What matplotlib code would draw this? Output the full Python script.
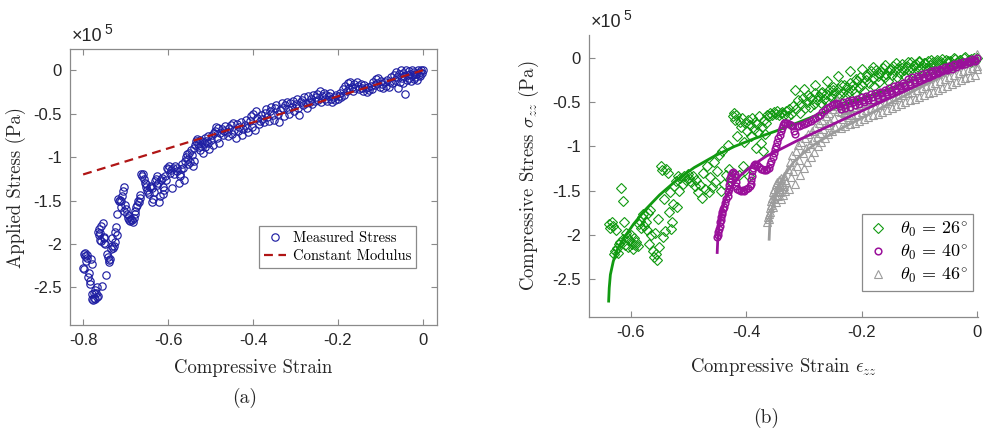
import matplotlib
matplotlib.use("Agg")
import matplotlib.pyplot as plt
from matplotlib.ticker import FormatStrFormatter
from matplotlib.lines import Line2D

# ---------------------------------------------------------------------------
# Data (stress in units of 1e5 Pa)
# ---------------------------------------------------------------------------

# (a) measured stress vs compressive strain
measured_a = [
    (-0.800, -2.28), (-0.799, -2.29), (-0.798, -2.12), (-0.796, -2.10), (-0.795, -2.14),
    (-0.793, -2.20), (-0.792, -2.13), (-0.790, -2.16), (-0.789, -2.38), (-0.787, -2.33),
    (-0.785, -2.43), (-0.784, -2.46), (-0.782, -2.17), (-0.780, -2.23), (-0.779, -2.58),
    (-0.778, -2.63), (-0.777, -2.65), (-0.775, -2.56), (-0.774, -2.62), (-0.772, -2.53),
    (-0.771, -2.64), (-0.770, -2.57), (-0.768, -2.61), (-0.767, -2.50), (-0.765, -2.60),
    (-0.764, -1.86), (-0.763, -1.90), (-0.762, -1.83), (-0.761, -1.95), (-0.760, -1.88),
    (-0.758, -1.97), (-0.757, -1.79), (-0.755, -2.49), (-0.754, -1.76), (-0.752, -1.93),
    (-0.751, -1.99), (-0.750, -1.92), (-0.748, -2.00), (-0.745, -2.36), (-0.743, -2.12),
    (-0.741, -2.15), (-0.740, -2.18), (-0.738, -2.21), (-0.736, -2.17), (-0.735, -2.06),
    (-0.733, -2.02), (-0.731, -1.93), (-0.730, -2.05), (-0.728, -2.02), (-0.726, -1.98),
    (-0.724, -1.86), (-0.722, -1.80), (-0.721, -1.65), (-0.720, -1.90), (-0.718, -1.48),
    (-0.716, -1.50), (-0.714, -1.49), (-0.712, -1.58), (-0.710, -1.51), (-0.708, -1.45),
    (-0.706, -1.39), (-0.704, -1.34), (-0.703, -1.62), (-0.701, -1.55), (-0.699, -1.60),
    (-0.697, -1.65), (-0.695, -1.70), (-0.693, -1.72), (-0.691, -1.68), (-0.689, -1.74),
    (-0.687, -1.71), (-0.685, -1.73), (-0.683, -1.75), (-0.681, -1.70), (-0.679, -1.65),
    (-0.677, -1.62), (-0.675, -1.58), (-0.673, -1.55), (-0.671, -1.50), (-0.669, -1.52),
    (-0.667, -1.47), (-0.665, -1.44), (-0.663, -1.20), (-0.661, -1.22), (-0.659, -1.19),
    (-0.657, -1.25), (-0.655, -1.30), (-0.653, -1.35), (-0.651, -1.31), (-0.649, -1.38),
    (-0.647, -1.40), (-0.645, -1.43), (-0.643, -1.35), (-0.641, -1.33), (-0.639, -1.36),
    (-0.637, -1.52), (-0.635, -1.48), (-0.633, -1.40), (-0.631, -1.28), (-0.629, -1.25),
    (-0.627, -1.32), (-0.625, -1.22), (-0.623, -1.30), (-0.621, -1.52), (-0.619, -1.45),
    (-0.617, -1.26), (-0.615, -1.24), (-0.613, -1.34), (-0.611, -1.42), (-0.609, -1.38),
    (-0.607, -1.22), (-0.605, -1.26), (-0.602, -1.12), (-0.600, -1.14), (-0.597, -1.10),
    (-0.595, -1.18), (-0.593, -1.15), (-0.590, -1.36), (-0.588, -1.12), (-0.585, -1.20),
    (-0.583, -1.10), (-0.580, -1.16), (-0.578, -1.13), (-0.575, -1.30), (-0.573, -1.19),
    (-0.571, -1.22), (-0.569, -1.14), (-0.567, -1.08), (-0.565, -1.12), (-0.563, -1.26),
    (-0.560, -1.05), (-0.558, -1.00), (-0.556, -0.97), (-0.554, -1.02), (-0.552, -1.08),
    (-0.550, -0.95), (-0.548, -1.06), (-0.546, -0.92), (-0.544, -0.98), (-0.542, -1.10),
    (-0.540, -1.04), (-0.538, -0.90), (-0.536, -0.86), (-0.534, -0.82), (-0.532, -0.79),
    (-0.530, -0.85), (-0.528, -0.88), (-0.526, -0.80), (-0.524, -0.92), (-0.522, -0.87),
    (-0.520, -0.83), (-0.518, -0.95), (-0.516, -0.84), (-0.514, -0.78), (-0.512, -0.88),
    (-0.510, -0.81), (-0.507, -0.76), (-0.505, -0.84), (-0.503, -0.91), (-0.500, -0.80),
    (-0.497, -0.74), (-0.495, -0.86), (-0.492, -0.72), (-0.490, -0.70), (-0.487, -0.65),
    (-0.485, -0.78), (-0.483, -0.66), (-0.480, -0.84), (-0.477, -0.72), (-0.474, -0.68),
    (-0.471, -0.75), (-0.468, -0.70), (-0.465, -0.64), (-0.462, -0.71), (-0.459, -0.76),
    (-0.456, -0.67), (-0.453, -0.63), (-0.450, -0.73), (-0.447, -0.61), (-0.444, -0.69),
    (-0.441, -0.78), (-0.438, -0.62), (-0.435, -0.70), (-0.432, -0.65), (-0.429, -0.60),
    (-0.426, -0.74), (-0.423, -0.68), (-0.420, -0.63), (-0.417, -0.57), (-0.414, -0.66),
    (-0.411, -0.71), (-0.408, -0.59), (-0.405, -0.53), (-0.402, -0.65), (-0.399, -0.50),
    (-0.396, -0.69), (-0.393, -0.47), (-0.390, -0.55), (-0.387, -0.62), (-0.384, -0.58),
    (-0.381, -0.52), (-0.378, -0.56), (-0.375, -0.60), (-0.372, -0.49), (-0.369, -0.45),
    (-0.366, -0.54), (-0.363, -0.58), (-0.360, -0.47), (-0.357, -0.42), (-0.354, -0.51),
    (-0.351, -0.57), (-0.348, -0.44), (-0.345, -0.40), (-0.342, -0.50), (-0.339, -0.60),
    (-0.336, -0.46), (-0.333, -0.38), (-0.330, -0.43), (-0.327, -0.53), (-0.324, -0.40),
    (-0.321, -0.36), (-0.318, -0.45), (-0.315, -0.50), (-0.312, -0.38), (-0.309, -0.42),
    (-0.306, -0.35), (-0.303, -0.47), (-0.300, -0.39), (-0.297, -0.33), (-0.294, -0.44),
    (-0.291, -0.51), (-0.288, -0.37), (-0.285, -0.34), (-0.282, -0.40), (-0.279, -0.31),
    (-0.276, -0.38), (-0.273, -0.44), (-0.270, -0.30), (-0.267, -0.36), (-0.264, -0.33),
    (-0.261, -0.39), (-0.258, -0.29), (-0.255, -0.35), (-0.252, -0.31), (-0.249, -0.27),
    (-0.246, -0.34), (-0.243, -0.24), (-0.240, -0.37), (-0.237, -0.30), (-0.234, -0.26),
    (-0.231, -0.33), (-0.228, -0.28), (-0.225, -0.35), (-0.222, -0.30), (-0.219, -0.26),
    (-0.216, -0.33), (-0.213, -0.36), (-0.210, -0.31), (-0.207, -0.34), (-0.204, -0.29),
    (-0.201, -0.33), (-0.198, -0.30), (-0.195, -0.26), (-0.192, -0.31), (-0.189, -0.22),
    (-0.186, -0.28), (-0.183, -0.18), (-0.180, -0.24), (-0.177, -0.15), (-0.174, -0.21),
    (-0.171, -0.13), (-0.168, -0.19), (-0.165, -0.24), (-0.162, -0.16), (-0.159, -0.20),
    (-0.156, -0.14), (-0.153, -0.18), (-0.150, -0.22), (-0.147, -0.16), (-0.144, -0.20),
    (-0.141, -0.24), (-0.138, -0.17), (-0.135, -0.21), (-0.132, -0.25), (-0.129, -0.19),
    (-0.126, -0.23), (-0.123, -0.18), (-0.120, -0.22), (-0.117, -0.13), (-0.114, -0.17),
    (-0.111, -0.10), (-0.108, -0.15), (-0.105, -0.09), (-0.102, -0.19), (-0.099, -0.12),
    (-0.096, -0.16), (-0.093, -0.21), (-0.090, -0.14), (-0.087, -0.18), (-0.084, -0.11),
    (-0.081, -0.19), (-0.078, -0.13), (-0.075, -0.08), (-0.072, -0.15), (-0.069, -0.05),
    (-0.066, -0.11), (-0.063, -0.02), (-0.060, -0.08), (-0.058, -0.20), (-0.056, -0.04),
    (-0.054, -0.13), (-0.052, 0.00), (-0.050, -0.09), (-0.048, -0.15), (-0.046, -0.03),
    (-0.044, -0.07), (-0.042, -0.27), (-0.040, 0.00), (-0.038, -0.11), (-0.036, -0.05),
    (-0.034, -0.01), (-0.032, -0.09), (-0.030, -0.04), (-0.028, -0.12), (-0.026, 0.00),
    (-0.024, -0.06), (-0.022, -0.10), (-0.020, -0.02), (-0.018, -0.08), (-0.016, -0.04),
    (-0.014, -0.11), (-0.012, 0.00), (-0.010, -0.05), (-0.008, -0.02), (-0.006, -0.07),
    (-0.004, 0.00), (-0.002, -0.03), (0.000, 0.00),
]

# (a) constant modulus line, end points
modulus_strain = [-0.8, 0.0]
modulus_stress = [-1.2, 0.0]

# (b) theta0 = 26 deg, measured
meas_26 = [
    (-0.637, -1.88), (-0.635, -1.92), (-0.633, -1.86), (-0.631, -1.90), (-0.629, -2.22),
    (-0.627, -2.18), (-0.626, -1.95), (-0.624, -2.15), (-0.622, -2.20), (-0.620, -2.10),
    (-0.618, -2.08), (-0.616, -1.47), (-0.614, -1.62), (-0.613, -2.05), (-0.611, -1.85),
    (-0.610, -2.12), (-0.608, -1.98), (-0.606, -2.02), (-0.604, -2.14), (-0.602, -2.06),
    (-0.600, -2.00), (-0.598, -2.10), (-0.596, -2.16), (-0.594, -2.04), (-0.592, -2.12),
    (-0.590, -2.08), (-0.588, -2.13), (-0.586, -1.88), (-0.584, -1.84), (-0.582, -1.92),
    (-0.580, -1.80), (-0.578, -1.76), (-0.576, -1.90), (-0.574, -1.86), (-0.572, -1.95),
    (-0.570, -1.75), (-0.568, -2.10), (-0.566, -1.72), (-0.564, -2.00), (-0.562, -2.18),
    (-0.560, -2.25), (-0.558, -1.98), (-0.556, -2.22), (-0.554, -2.28), (-0.552, -1.82),
    (-0.550, -2.14), (-0.548, -1.22), (-0.546, -1.27), (-0.544, -2.02), (-0.542, -1.60),
    (-0.540, -1.96), (-0.538, -1.25), (-0.536, -1.30), (-0.534, -1.74), (-0.532, -1.52),
    (-0.530, -1.93), (-0.528, -1.85), (-0.526, -1.65), (-0.524, -1.45), (-0.522, -1.39),
    (-0.520, -1.68), (-0.518, -1.33), (-0.516, -1.50), (-0.514, -1.36), (-0.510, -1.42),
    (-0.507, -1.33), (-0.504, -1.38), (-0.501, -1.31), (-0.498, -1.36), (-0.495, -1.40),
    (-0.492, -1.33), (-0.489, -1.45), (-0.486, -1.38), (-0.483, -1.52), (-0.480, -1.44),
    (-0.477, -1.58), (-0.474, -1.30), (-0.471, -1.48), (-0.468, -1.22), (-0.465, -1.52),
    (-0.462, -1.35), (-0.459, -1.46), (-0.456, -1.18), (-0.453, -1.40), (-0.450, -1.28),
    (-0.447, -1.10), (-0.444, -1.50), (-0.441, -1.05), (-0.438, -1.42), (-0.435, -1.32),
    (-0.432, -0.98), (-0.429, -1.25), (-0.426, -1.36), (-0.423, -0.66), (-0.421, -0.62),
    (-0.419, -0.70), (-0.417, -0.64), (-0.415, -0.88), (-0.413, -1.32), (-0.411, -0.72),
    (-0.409, -0.78), (-0.407, -0.68), (-0.405, -1.22), (-0.403, -0.95), (-0.401, -0.74),
    (-0.399, -0.82), (-0.397, -0.70), (-0.395, -1.33), (-0.393, -0.76), (-0.391, -0.88),
    (-0.389, -0.68), (-0.387, -0.80), (-0.385, -0.72), (-0.383, -1.02), (-0.381, -0.75),
    (-0.379, -0.84), (-0.377, -0.66), (-0.375, -0.96), (-0.373, -0.78), (-0.371, -1.05),
    (-0.369, -0.70), (-0.367, -0.86), (-0.365, -0.74), (-0.363, -0.64), (-0.361, -0.66),
    (-0.358, -0.62), (-0.355, -0.65), (-0.352, -0.61), (-0.349, -0.63), (-0.346, -0.60),
    (-0.343, -0.64), (-0.340, -0.62), (-0.337, -0.61), (-0.334, -0.64), (-0.331, -0.60),
    (-0.328, -0.66), (-0.325, -0.58), (-0.322, -0.63), (-0.319, -0.54), (-0.316, -0.36),
    (-0.313, -0.58), (-0.310, -0.48), (-0.307, -0.62), (-0.304, -0.52), (-0.301, -0.45),
    (-0.298, -0.57), (-0.295, -0.50), (-0.292, -0.42), (-0.289, -0.55), (-0.286, -0.46),
    (-0.283, -0.52), (-0.280, -0.40), (-0.277, -0.48), (-0.274, -0.43), (-0.271, -0.51),
    (-0.268, -0.38), (-0.265, -0.46), (-0.262, -0.41), (-0.259, -0.49), (-0.256, -0.36),
    (-0.253, -0.44), (-0.250, -0.33), (-0.247, -0.40), (-0.244, -0.47), (-0.241, -0.35),
    (-0.238, -0.42), (-0.235, -0.30), (-0.232, -0.38), (-0.229, -0.44), (-0.226, -0.33),
    (-0.223, -0.40), (-0.220, -0.28), (-0.217, -0.36), (-0.214, -0.31), (-0.211, -0.39),
    (-0.208, -0.26), (-0.205, -0.34), (-0.202, -0.22), (-0.199, -0.30), (-0.196, -0.37),
    (-0.193, -0.25), (-0.190, -0.18), (-0.187, -0.28), (-0.184, -0.15), (-0.181, -0.23),
    (-0.178, -0.32), (-0.175, -0.13), (-0.172, -0.20), (-0.169, -0.27), (-0.166, -0.16),
    (-0.163, -0.11), (-0.160, -0.22), (-0.157, -0.18), (-0.154, -0.26), (-0.151, -0.12),
    (-0.148, -0.19), (-0.145, -0.09), (-0.142, -0.15), (-0.139, -0.22), (-0.136, -0.11),
    (-0.133, -0.17), (-0.130, -0.07), (-0.127, -0.13), (-0.124, -0.20), (-0.121, -0.09),
    (-0.118, -0.15), (-0.115, -0.05), (-0.112, -0.11), (-0.109, -0.17), (-0.106, -0.07),
    (-0.103, -0.13), (-0.100, -0.04), (-0.097, -0.10), (-0.094, -0.15), (-0.091, -0.06),
    (-0.088, -0.11), (-0.085, -0.03), (-0.082, -0.08), (-0.079, -0.13), (-0.076, -0.05),
    (-0.073, -0.09), (-0.070, -0.02), (-0.066, -0.07), (-0.062, -0.04), (-0.058, -0.09),
    (-0.054, -0.02), (-0.050, -0.06), (-0.046, -0.03), (-0.042, -0.07), (-0.038, -0.01),
    (-0.034, -0.05), (-0.030, -0.02), (-0.026, -0.06), (-0.022, 0.00), (-0.018, -0.04),
    (-0.014, -0.02), (-0.010, -0.05), (-0.006, 0.00), (-0.003, -0.03), (0.000, 0.00),
    (-0.300, -0.35), (-0.280, -0.30), (-0.260, -0.26), (-0.240, -0.20), (-0.220, -0.15),
    (-0.200, -0.12), (-0.180, -0.10), (-0.160, -0.08), (-0.140, -0.06), (-0.120, -0.04),
    (-0.100, -0.03), (-0.080, -0.02), (-0.060, -0.01), (-0.040, 0.00), (-0.020, 0.01),
    (-0.290, -0.44), (-0.270, -0.40), (-0.250, -0.36), (-0.230, -0.30), (-0.210, -0.24),
    (-0.190, -0.20), (-0.170, -0.17), (-0.150, -0.14), (-0.130, -0.11), (-0.110, -0.08),
    (-0.090, -0.06), (-0.070, -0.05), (-0.050, -0.03), (-0.030, -0.02), (-0.010, -0.01),
]

# (b) theta0 = 40 deg, measured
meas_40 = [
    (-0.450, -2.03), (-0.449, -2.00), (-0.448, -1.97), (-0.447, -1.93), (-0.446, -1.90),
    (-0.445, -1.86), (-0.444, -1.83), (-0.443, -1.80), (-0.442, -1.77), (-0.441, -1.74),
    (-0.440, -1.71), (-0.438, -1.68), (-0.436, -1.64), (-0.434, -1.60), (-0.432, -1.56),
    (-0.431, -1.52), (-0.430, -1.48), (-0.429, -1.44), (-0.428, -1.40), (-0.427, -1.36),
    (-0.426, -1.32), (-0.424, -1.30), (-0.422, -1.29), (-0.420, -1.31), (-0.419, -1.35),
    (-0.418, -1.40), (-0.417, -1.45), (-0.415, -1.48), (-0.412, -1.49), (-0.409, -1.50),
    (-0.406, -1.49), (-0.403, -1.50), (-0.400, -1.48), (-0.397, -1.47), (-0.394, -1.45),
    (-0.392, -1.42), (-0.391, -1.38), (-0.390, -1.33), (-0.389, -1.28), (-0.388, -1.24),
    (-0.386, -1.21), (-0.384, -1.20), (-0.381, -1.21), (-0.378, -1.23), (-0.375, -1.25),
    (-0.372, -1.26), (-0.369, -1.27), (-0.366, -1.27), (-0.363, -1.26), (-0.360, -1.24),
    (-0.358, -1.20), (-0.356, -1.16), (-0.354, -1.12), (-0.352, -1.07), (-0.350, -1.03),
    (-0.348, -0.99), (-0.346, -0.95), (-0.344, -0.91), (-0.342, -0.87), (-0.340, -0.83),
    (-0.338, -0.79), (-0.336, -0.76), (-0.334, -0.74), (-0.332, -0.73), (-0.329, -0.74),
    (-0.326, -0.75), (-0.323, -0.76), (-0.320, -0.77), (-0.317, -0.83), (-0.315, -0.86),
    (-0.312, -0.77), (-0.308, -0.77), (-0.304, -0.76), (-0.300, -0.75), (-0.296, -0.74),
    (-0.292, -0.72), (-0.288, -0.71), (-0.284, -0.69), (-0.280, -0.68), (-0.276, -0.66),
    (-0.272, -0.64), (-0.268, -0.61), (-0.264, -0.59), (-0.260, -0.57), (-0.256, -0.55),
    (-0.252, -0.53), (-0.248, -0.52), (-0.244, -0.51), (-0.240, -0.52), (-0.236, -0.58),
    (-0.232, -0.50), (-0.228, -0.56), (-0.224, -0.49), (-0.220, -0.55), (-0.216, -0.47),
    (-0.212, -0.53), (-0.208, -0.46), (-0.204, -0.52), (-0.200, -0.44), (-0.196, -0.50),
    (-0.192, -0.43), (-0.188, -0.48), (-0.184, -0.41), (-0.180, -0.47), (-0.176, -0.40),
    (-0.172, -0.45), (-0.168, -0.38), (-0.164, -0.43), (-0.160, -0.36), (-0.156, -0.41),
    (-0.152, -0.34), (-0.148, -0.39), (-0.144, -0.32), (-0.140, -0.37), (-0.136, -0.30),
    (-0.132, -0.34), (-0.128, -0.28), (-0.124, -0.32), (-0.120, -0.24), (-0.116, -0.29),
    (-0.112, -0.22), (-0.108, -0.27), (-0.104, -0.20), (-0.100, -0.25), (-0.096, -0.18),
    (-0.092, -0.23), (-0.088, -0.17), (-0.084, -0.21), (-0.080, -0.15), (-0.076, -0.19),
    (-0.072, -0.13), (-0.068, -0.17), (-0.064, -0.12), (-0.060, -0.15), (-0.056, -0.10),
    (-0.052, -0.14), (-0.048, -0.09), (-0.044, -0.12), (-0.040, -0.07), (-0.036, -0.10),
    (-0.032, -0.06), (-0.028, -0.08), (-0.024, -0.04), (-0.020, -0.07), (-0.016, -0.03),
    (-0.012, -0.05), (-0.008, -0.01), (-0.004, -0.03), (0.000, 0.00),
    (-0.238, -0.54), (-0.230, -0.53), (-0.222, -0.51), (-0.214, -0.50), (-0.206, -0.49),
    (-0.198, -0.47), (-0.190, -0.45), (-0.182, -0.44), (-0.174, -0.42), (-0.166, -0.40),
    (-0.158, -0.38), (-0.150, -0.37), (-0.142, -0.35), (-0.134, -0.32), (-0.126, -0.30),
    (-0.118, -0.27), (-0.110, -0.25), (-0.102, -0.23), (-0.094, -0.21), (-0.086, -0.19),
    (-0.078, -0.17), (-0.070, -0.15), (-0.062, -0.14), (-0.054, -0.12), (-0.046, -0.10),
    (-0.038, -0.08), (-0.030, -0.07), (-0.022, -0.05), (-0.014, -0.04), (-0.006, -0.02),
]

# (b) theta0 = 46 deg, measured: rising cluster
meas_46 = [
    (-0.363, -1.85), (-0.362, -1.80), (-0.361, -1.76), (-0.360, -1.82), (-0.359, -1.70),
    (-0.358, -1.74), (-0.357, -1.66), (-0.356, -1.62), (-0.355, -1.58), (-0.354, -1.68),
    (-0.353, -1.52), (-0.352, -1.60), (-0.351, -1.48), (-0.350, -1.55), (-0.349, -1.43),
    (-0.348, -1.63), (-0.347, -1.50), (-0.346, -1.40), (-0.345, -1.56), (-0.344, -1.46),
    (-0.343, -1.38), (-0.342, -1.52), (-0.341, -1.44), (-0.340, -1.60), (-0.339, -1.36),
    (-0.338, -1.48), (-0.337, -1.42), (-0.336, -1.55), (-0.335, -1.34), (-0.334, -1.45),
    (-0.333, -1.38), (-0.332, -1.50), (-0.330, -1.40), (-0.328, -1.25), (-0.326, -1.48),
    (-0.324, -1.18), (-0.322, -1.35), (-0.320, -1.10), (-0.318, -1.28), (-0.316, -1.42),
    (-0.314, -1.05), (-0.312, -1.22), (-0.310, -0.98), (-0.308, -1.15), (-0.306, -1.32),
    (-0.304, -0.95), (-0.302, -1.08), (-0.300, -1.24), (-0.298, -0.90), (-0.296, -1.02),
    (-0.294, -1.18), (-0.292, -0.86), (-0.290, -0.97), (-0.288, -1.12), (-0.286, -0.82),
    (-0.284, -0.93), (-0.282, -1.06), (-0.280, -0.78), (-0.278, -0.89), (-0.276, -1.00),
    (-0.274, -0.74), (-0.272, -0.85), (-0.270, -0.95), (-0.268, -0.70), (-0.266, -0.80),
    (-0.264, -0.90), (-0.262, -0.66), (-0.260, -0.76), (-0.258, -0.86), (-0.256, -0.62),
    (-0.254, -0.72), (-0.252, -0.82), (-0.250, -0.58), (-0.248, -0.68), (-0.246, -0.78),
    (-0.244, -0.54), (-0.242, -0.48), (-0.240, -0.60), (-0.238, -0.50), (-0.234, -0.56),
    (-0.230, -0.62), (-0.226, -0.58), (-0.222, -0.64),
]

# (b) theta0 = 46 deg, measured: upper band, three rows
band_46_top = [
    (-0.236, -0.61), (-0.228, -0.59), (-0.220, -0.57), (-0.212, -0.55), (-0.204, -0.53),
    (-0.196, -0.51), (-0.188, -0.49), (-0.180, -0.47), (-0.172, -0.45), (-0.164, -0.43),
    (-0.156, -0.41), (-0.148, -0.38), (-0.140, -0.36), (-0.132, -0.34), (-0.124, -0.32),
    (-0.116, -0.30), (-0.108, -0.28), (-0.100, -0.26), (-0.092, -0.24), (-0.084, -0.22),
    (-0.076, -0.20), (-0.068, -0.18), (-0.060, -0.16), (-0.052, -0.14), (-0.044, -0.11),
    (-0.036, -0.09), (-0.028, -0.07), (-0.020, -0.05), (-0.012, -0.03), (-0.004, -0.01),
    (0.000, 0.04),
]
band_46_mid = [
    (-0.232, -0.69), (-0.224, -0.67), (-0.216, -0.65), (-0.208, -0.63), (-0.200, -0.61),
    (-0.192, -0.59), (-0.184, -0.57), (-0.176, -0.55), (-0.168, -0.53), (-0.160, -0.51),
    (-0.152, -0.49), (-0.144, -0.46), (-0.136, -0.44), (-0.128, -0.42), (-0.120, -0.40),
    (-0.112, -0.38), (-0.104, -0.36), (-0.096, -0.34), (-0.088, -0.32), (-0.080, -0.30),
    (-0.072, -0.28), (-0.064, -0.26), (-0.056, -0.24), (-0.048, -0.21), (-0.040, -0.19),
    (-0.032, -0.17), (-0.024, -0.15), (-0.016, -0.13), (-0.008, -0.11), (0.000, -0.09),
]
band_46_low = [
    (-0.236, -0.79), (-0.228, -0.77), (-0.220, -0.75), (-0.212, -0.73), (-0.204, -0.71),
    (-0.196, -0.69), (-0.188, -0.67), (-0.180, -0.65), (-0.172, -0.63), (-0.164, -0.61),
    (-0.156, -0.59), (-0.148, -0.56), (-0.140, -0.54), (-0.132, -0.52), (-0.124, -0.50),
    (-0.116, -0.48), (-0.108, -0.46), (-0.100, -0.44), (-0.092, -0.42), (-0.084, -0.40),
    (-0.076, -0.38), (-0.068, -0.36), (-0.060, -0.34), (-0.052, -0.32), (-0.044, -0.29),
    (-0.036, -0.27), (-0.028, -0.25), (-0.020, -0.23), (-0.012, -0.21), (-0.004, -0.19),
    (0.000, -0.12),
]

# (b) model curves
fit_26_strain = [-0.638, -0.637, -0.635, -0.630, -0.622, -0.610, -0.595, -0.575, -0.550,
                 -0.520, -0.490, -0.455, -0.420, -0.385, -0.350, -0.310, -0.260, -0.200,
                 -0.140, -0.080, 0.0]
fit_26_stress = [-2.75, -2.60, -2.45, -2.30, -2.15, -2.02, -1.88, -1.72, -1.55,
                 -1.38, -1.24, -1.11, -1.00, -0.91, -0.83, -0.73, -0.60, -0.46,
                 -0.32, -0.18, 0.0]

fit_40_strain = [-0.450, -0.449, -0.447, -0.443, -0.436, -0.425, -0.410, -0.390, -0.365,
                 -0.340, -0.310, -0.280, -0.250, -0.220, -0.180, -0.140, -0.100, -0.050, 0.0]
fit_40_stress = [-2.20, -2.05, -1.92, -1.76, -1.60, -1.45, -1.33, -1.22, -1.11,
                 -1.03, -0.93, -0.84, -0.75, -0.66, -0.54, -0.42, -0.30, -0.15, 0.0]

fit_46_strain = [-0.360, -0.359, -0.357, -0.352, -0.344, -0.333, -0.318, -0.300, -0.280,
                 -0.255, -0.230, -0.200, -0.150, -0.100, -0.050, 0.0]
fit_46_stress = [-2.05, -1.90, -1.78, -1.62, -1.46, -1.32, -1.18, -1.07, -0.97,
                 -0.87, -0.78, -0.68, -0.51, -0.34, -0.17, 0.0]

legend_a = ["Measured Stress", "Constant Modulus"]
legend_b = [r"$\theta_0\,=\,26^{\circ}$", r"$\theta_0\,=\,40^{\circ}$", r"$\theta_0\,=\,46^{\circ}$"]

# ---------------------------------------------------------------------------
# Style
# ---------------------------------------------------------------------------

C_BLUE   = "#1f1fa3"
C_RED    = "#b01515"
C_GREEN  = "#119a11"
C_PURPLE = "#9a109a"
C_GRAY   = "#9c9c9c"
C_AXIS   = "#8a8a8a"
C_TEXT   = "#262626"

plt.rcParams["font.family"] = ["Liberation Sans", "DejaVu Sans"]
plt.rcParams["mathtext.fontset"] = "cm"
plt.rcParams["axes.unicode_minus"] = False

SERIF = "cmr10"


def style_axes(ax, box):
    for side in ("left", "bottom", "top", "right"):
        ax.spines[side].set_color(C_AXIS)
        ax.spines[side].set_linewidth(0.9)
        if not box and side in ("top", "right"):
            ax.spines[side].set_visible(False)
    ax.tick_params(direction="in", length=4, width=0.8, color=C_AXIS,
                   labelsize=12, labelcolor=C_TEXT, top=box, right=box, pad=6)
    ax.xaxis.set_major_formatter(FormatStrFormatter("%g"))
    ax.yaxis.set_major_formatter(FormatStrFormatter("%g"))


def exponent(ax, dx):
    ax.annotate("\u00d710", xy=(0, 1), xycoords="axes fraction",
                xytext=(dx, 3), textcoords="offset points",
                fontsize=13, color=C_TEXT, ha="left", va="bottom")
    ax.annotate("5", xy=(0, 1), xycoords="axes fraction",
                xytext=(dx + 23.5, 8.5), textcoords="offset points",
                fontsize=10, color=C_TEXT, ha="left", va="bottom")


def unzip(points):
    return [p[0] for p in points], [p[1] for p in points]


fig = plt.figure(figsize=(9.84, 4.29), dpi=100)

# ---------------------------------------------------------------------------
# (a)
# ---------------------------------------------------------------------------
ax1 = fig.add_axes([0.0711, 0.2424, 0.373, 0.6434])
xa, ya = unzip(measured_a)
ax1.plot(xa, ya, "o", ls="none", ms=5.3, mfc="none", mec=C_BLUE, mew=0.85)
ax1.plot(modulus_strain, modulus_stress, "--", color=C_RED, lw=1.6, dashes=(4, 2.5))
ax1.set_xlim(-0.831, 0.033)
ax1.set_ylim(-2.934, 0.245)
ax1.set_xticks([-0.8, -0.6, -0.4, -0.2, 0])
ax1.set_yticks([-2.5, -2, -1.5, -1, -0.5, 0])
style_axes(ax1, box=True)
ax1.set_xlabel("Compressive Strain", family=SERIF, fontsize=13.5, color=C_TEXT, labelpad=8)
ax1.set_ylabel("Applied Stress (Pa)", family=SERIF, fontsize=13.5, color=C_TEXT, labelpad=5)
exponent(ax1, 1)

handles_a = [
    Line2D([], [], marker="o", ls="none", ms=5.3, mfc="none", mec=C_BLUE, mew=0.85),
    Line2D([], [], ls="--", color=C_RED, lw=1.6, dashes=(4, 2.5)),
]
leg = ax1.legend(handles_a, legend_a, loc="upper left", bbox_to_anchor=(0.515, 0.358),
                 prop={"family": SERIF, "size": 10.5}, frameon=True, fancybox=False,
                 edgecolor=C_AXIS, framealpha=1, borderpad=0.35, labelspacing=0.3,
                 handlelength=1.5, handletextpad=0.45, borderaxespad=0)
leg.get_frame().set_linewidth(0.9)
fig.text(0.249, 0.072, "(a)", family=SERIF, fontsize=14, ha="center", va="center", color=C_TEXT)

# ---------------------------------------------------------------------------
# (b)
# ---------------------------------------------------------------------------
ax2 = fig.add_axes([0.5986, 0.261, 0.3953, 0.6573])
x26, y26 = unzip(meas_26)
x40, y40 = unzip(meas_40)
x46, y46 = unzip(meas_46 + band_46_top + band_46_mid + band_46_low)

ax2.plot(x26, y26, "D", ls="none", ms=4.6, mfc="none", mec=C_GREEN, mew=0.8, clip_on=False)
ax2.plot(fit_26_strain, fit_26_stress, "-", color=C_GREEN, lw=2, clip_on=False)
ax2.plot(x46, y46, "^", ls="none", ms=5.2, mfc="none", mec=C_GRAY, mew=0.8, clip_on=False)
ax2.plot(fit_46_strain, fit_46_stress, "-", color=C_GRAY, lw=2, clip_on=False)
ax2.plot(x40, y40, "o", ls="none", ms=4.8, mfc="none", mec=C_PURPLE, mew=1.1, clip_on=False)
ax2.plot(fit_40_strain, fit_40_stress, "-", color=C_PURPLE, lw=2, clip_on=False)

ax2.set_xlim(-0.672, 0.0017)
ax2.set_ylim(-2.93, 0.26)
ax2.set_xticks([-0.6, -0.4, -0.2, 0])
ax2.set_yticks([-2.5, -2, -1.5, -1, -0.5, 0])
style_axes(ax2, box=False)
ax2.set_xlabel(r"Compressive Strain $\epsilon_{zz}$", family=SERIF, fontsize=13.5,
               color=C_TEXT, labelpad=11)
ax2.set_ylabel(r"Compressive Stress $\sigma_{zz}$ (Pa)", family=SERIF, fontsize=13.5,
               color=C_TEXT, labelpad=8)
exponent(ax2, 1)

handles_b = [
    Line2D([], [], marker="D", ls="none", ms=4.6, mfc="none", mec=C_GREEN, mew=0.8),
    Line2D([], [], marker="o", ls="none", ms=4.8, mfc="none", mec=C_PURPLE, mew=1.1),
    Line2D([], [], marker="^", ls="none", ms=5.2, mfc="none", mec=C_GRAY, mew=0.8),
]
leg2 = ax2.legend(handles_b, legend_b, loc="upper left", bbox_to_anchor=(0.701, 0.365),
                  prop={"size": 13}, frameon=True, fancybox=False,
                  edgecolor=C_AXIS, framealpha=1, borderpad=0.3, labelspacing=0.2,
                  handlelength=1.2, handletextpad=0.6, borderaxespad=0)
leg2.get_frame().set_linewidth(0.9)
fig.text(0.779, 0.026, "(b)", family=SERIF, fontsize=14, ha="center", va="center", color=C_TEXT)

fig.savefig("out.png", dpi=100, facecolor="white")
